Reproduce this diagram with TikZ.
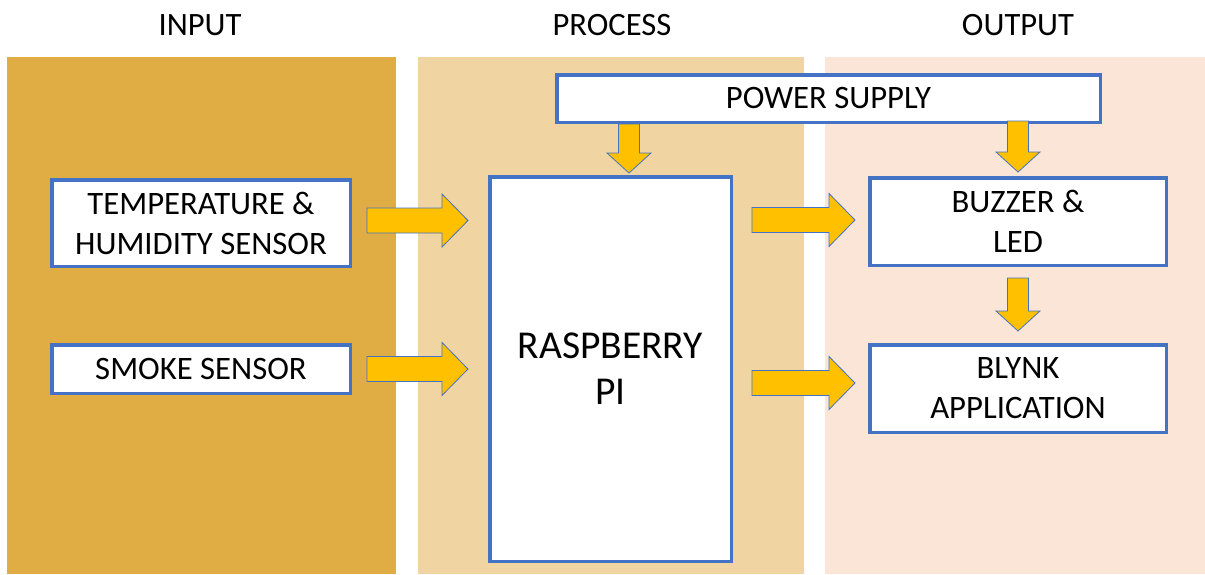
\documentclass[tikz,border=0pt]{standalone}
\usepackage{fontspec}
\setmainfont{Carlito}
\usepackage{tikz}
\usetikzlibrary{positioning,calc}

\definecolor{inputcol}{HTML}{E0AD45}
\definecolor{processcol}{HTML}{F0D5A2}
\definecolor{outputcol}{HTML}{FBE5D6}
\definecolor{boxblue}{HTML}{4472C4}
\definecolor{arrowyellow}{HTML}{FFC000}

\tikzset{
  box/.style={draw=boxblue, line width=3.5pt, fill=white, align=center, inner sep=0pt,
    font=\fontsize{32.7}{40}\selectfont},
  title/.style={anchor=base, font=\fontsize{32.6}{40}\selectfont},
  fatarrow/.style={draw=boxblue, line width=0.8pt, fill=arrowyellow, line join=miter}
}

% block arrow pointing right: start point, end point (only its x is used)
\newcommand{\rarrow}[2]{%
  \draw[fatarrow] let \p1=(#1), \p2=(#2) in
    (\x1,{\y1+12.5pt}) -- ({\x2-26pt},{\y1+12.5pt}) -- ({\x2-26pt},{\y1+26.5pt}) -- (\x2,\y1)
    -- ({\x2-26pt},{\y1-26.5pt}) -- ({\x2-26pt},{\y1-12.5pt}) -- (\x1,{\y1-12.5pt}) -- cycle;}
% block arrow pointing down: start point, end point (only its y is used)
\newcommand{\darrow}[2]{%
  \draw[fatarrow] let \p1=(#1), \p2=(#2) in
    ({\x1-10.5pt},\y1) -- ({\x1-10.5pt},{\y2+20pt}) -- ({\x1-22pt},{\y2+20pt}) -- (\x1,\y2)
    -- ({\x1+22pt},{\y2+20pt}) -- ({\x1+10.5pt},{\y2+20pt}) -- ({\x1+10.5pt},\y1) -- cycle;}

\begin{document}
\begin{tikzpicture}[x=1pt,y=-1pt]
  \useasboundingbox (0,0) rectangle (1205,574);

  % columns
  \fill[inputcol] (7,57) rectangle (396,574);
  \fill[processcol] (418,57) rectangle (804,574);
  \fill[outputcol] (825,57) rectangle (1205,574);

  \node[title] (intitle) at (200,35) {INPUT};
  \node[title] (proctitle) at (612,35) {PROCESS};
  \node[title] (outtitle) at (1018,35) {OUTPUT};

  % blocks
  \node[box, minimum width=298.5, minimum height=86.5] (temp) at (201,223) {TEMPERATURE \&\\HUMIDITY SENSOR};
  \node[box, minimum width=298.5, minimum height=48.5] (smoke) at (201,369) {SMOKE SENSOR};
  \node[box, minimum width=241.5, minimum height=384.5, font=\fontsize{39.5}{46}\selectfont] (rpi) at (610.5,369) {RASPBERRY\\PI};
  \node[box, minimum width=543.5, minimum height=47.5] (power) at (828.5,98.5) {POWER SUPPLY};
  \node[box, minimum width=296.5, minimum height=87.5] (buzzer) at (1018,221.5) {BUZZER \&\\LED};
  \node[box, minimum width=296.5, minimum height=87.5] (blynk) at (1018,388.5) {BLYNK\\APPLICATION};

  % arrow ends
  \coordinate (tempout) at ($(temp.east)+(15,-2.5)$);
  \coordinate (smokeout) at ($(smoke.east)+(15,0)$);
  \coordinate (rpiin) at ($(rpi.west)+(-20,0)$);
  \coordinate (rpiout1) at ($(rpi.east|-buzzer.west)+(19,-1.5)$);
  \coordinate (rpiout2) at ($(rpi.east|-blynk.west)+(19,-5.5)$);
  \coordinate (buzzerin) at ($(buzzer.west)+(-13,0)$);
  \coordinate (blynkin) at ($(blynk.west)+(-13,0)$);
  \coordinate (powerout1) at ($(power.south-|rpi.north)+(18.5,0)$);
  \coordinate (rpitop) at ($(rpi.north)+(0,-2)$);
  \coordinate (powerout2) at ($(power.south-|buzzer.north)+(0,-3)$);
  \coordinate (buzzertop) at ($(buzzer.north)+(0,-4)$);
  \coordinate (buzzerout) at ($(buzzer.south)+(0,11)$);
  \coordinate (blynktop) at ($(blynk.north)+(0,-12)$);

  % arrows
  \rarrow{tempout}{rpiin}
  \rarrow{smokeout}{rpiin}
  \rarrow{rpiout1}{buzzerin}
  \rarrow{rpiout2}{blynkin}
  \darrow{powerout1}{rpitop}
  \darrow{powerout2}{buzzertop}
  \darrow{buzzerout}{blynktop}
\end{tikzpicture}
\end{document}
